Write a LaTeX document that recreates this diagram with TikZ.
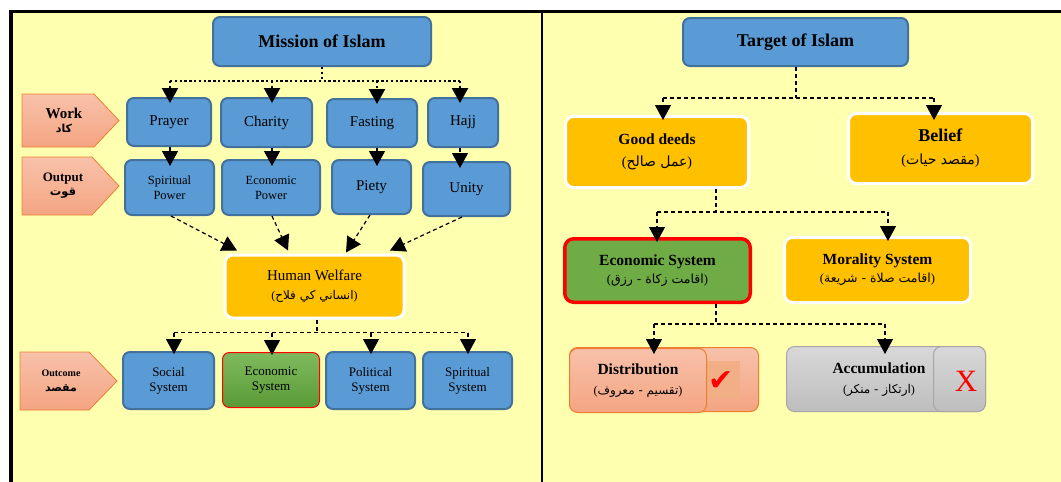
\documentclass[tikz,border=0pt]{standalone}
\usepackage{fontspec}
\setmainfont{Liberation Serif}
\newfontfamily\arabicfont[Script=Arabic]{DejaVu Sans}
\newfontfamily\symbolfont{DejaVu Sans}
\TeXXeTstate=1
\usetikzlibrary{arrows.meta}

% Arabic phrase set right to left, with its brackets
\newcommand\artxt[1]{{\arabicfont\beginR #1\endR}}
\newcommand\arpar[1]{({\arabicfont\beginR #1\endR})}
\newcommand\fs[1]{\fontsize{#1}{#1}\selectfont}

\definecolor{paper}{HTML}{FFFFB0}
\definecolor{bluefill}{HTML}{5B9BD5}
\definecolor{blueedge}{HTML}{41719C}
\definecolor{gold}{HTML}{FFC000}
\definecolor{leaf}{HTML}{6FAC46}
\definecolor{leaftop}{HTML}{7FBB5E}
\definecolor{leafbot}{HTML}{5A9A36}
\definecolor{tagtop}{HTML}{F8C1AA}
\definecolor{tagbot}{HTML}{F4A582}
\definecolor{tagedge}{HTML}{ED7D31}
\definecolor{tickbg}{HTML}{F2AE85}
\definecolor{greytop}{HTML}{D8D8D8}
\definecolor{greybot}{HTML}{BEBEBE}
\definecolor{greyedge}{HTML}{A6A6A6}

\tikzset{
  bluebox/.style={draw=blueedge, line width=2pt, fill=bluefill, rounded corners=7pt,
    inner sep=0pt, align=center},
  goldbox/.style={draw=white, line width=3pt, fill=gold, rounded corners=8pt,
    inner sep=0pt, align=center},
  tagshape/.style={draw=tagedge, line width=0.8pt, top color=tagtop, bottom color=tagbot},
  taglabel/.style={inner sep=0pt, align=center},
  salmonbox/.style={draw=tagedge, line width=1pt, top color=tagtop, bottom color=tagbot,
    rounded corners=8pt, inner sep=0pt, align=center},
  greybox/.style={draw=greyedge, line width=1pt, top color=greytop, bottom color=greybot,
    rounded corners=8pt, inner sep=0pt, align=center},
  conn/.style={line width=1.2pt, dash pattern=on 4pt off 3pt},
  dotconn/.style={line width=2.4pt, dash pattern=on 2.4pt off 2.4pt},
  tip/.style={-{Triangle[width=16pt,length=15pt]}},
}

\begin{document}
\begin{tikzpicture}[x=1pt,y=-1pt]
\useasboundingbox (0,0) rectangle (1061,482);

% panels and frame
\fill[paper] (9,10) rectangle (1061,482);
\draw[line width=2.5pt] (9,11.25) -- (1061,11.25);
\draw[line width=4pt] (11,10) -- (11,482);
\draw[line width=2.5pt] (542,10) -- (542,482);

% ---------------- left panel ----------------
\node[bluebox, minimum width=218, minimum height=49, font=\fs{18}\bfseries] (mission) at (322,41.5) {Mission of Islam};

% row tags
\shade[tagshape] (22,94) -- (94,94) -- (119,120.5) -- (94,147) -- (22,147) -- cycle;
\node[taglabel] (work) at (64,120.5)
  {{\fs{15}\bfseries Work}\\[2pt]{\fs{11}\bfseries\artxt{کاد}}};
\shade[tagshape] (22,157) -- (92,157) -- (119,186) -- (92,215) -- (22,215) -- cycle;
\node[taglabel] (output) at (63,186)
  {{\fs{13}\bfseries Output}\\[2pt]{\fs{11.5}\bfseries\artxt{قوت}}};
\shade[tagshape] (20,352) -- (89,352) -- (117,381) -- (89,410) -- (20,410) -- cycle;
\node[taglabel] (outcome) at (61,381)
  {{\fs{10}\bfseries Outcome}\\[3pt]{\fs{11}\bfseries\artxt{مقصد}}};

\node[bluebox, minimum width=84, minimum height=48, font=\fs{15}] (prayer) at (169,122) {Prayer};
\node[bluebox, minimum width=91, minimum height=49, font=\fs{15}] (charity) at (266.5,122.5) {Charity};
\node[bluebox, minimum width=90, minimum height=48, font=\fs{15}] (fasting) at (372,123) {Fasting};
\node[bluebox, minimum width=70, minimum height=49, font=\fs{15}] (hajj) at (463,122.5) {Hajj};

\node[bluebox, minimum width=89, minimum height=55, font=\fontsize{12.5}{15}\selectfont] (spow) at (169.5,187.5) {Spiritual\\Power};
\node[bluebox, minimum width=98, minimum height=55, font=\fontsize{12.5}{15}\selectfont] (epow) at (271,187.5) {Economic\\Power};
\node[bluebox, minimum width=79, minimum height=54, font=\fs{15}] (piety) at (371.5,187) {Piety};
\node[bluebox, minimum width=87, minimum height=54, font=\fs{15}] (unity) at (466.5,189) {Unity};

\node[goldbox, minimum width=179, minimum height=63, font=\fontsize{15}{19}\selectfont] (welfare) at (314.5,286.5)
  {Human Welfare\\{\fs{12}\arpar{انساني کي فلاح}}};

\node[bluebox, minimum width=91, minimum height=57, font=\fontsize{13}{15}\selectfont] (social) at (168.5,380.5) {Social\\System};
\node[draw=red, line width=1pt, top color=leaftop, bottom color=leafbot, rounded corners=7pt, inner sep=0pt, align=center,
  minimum width=97, minimum height=55, font=\fontsize{13}{15}\selectfont] (econL) at (271,380) {Economic\\System};
\node[bluebox, minimum width=89, minimum height=57, font=\fontsize{13}{15}\selectfont] (political) at (370.5,380.5) {Political\\System};
\node[bluebox, minimum width=89, minimum height=57, font=\fontsize{13}{15}\selectfont] (spiritual) at (467.5,380.5) {Spiritual\\System};

% mission to the four acts of worship
\coordinate (pA) at ([xshift=1]prayer.north);
\coordinate (pB) at ([xshift=5.5]charity.north);
\coordinate (pC) at ([xshift=5]fasting.north);
\coordinate (pD) at ([xshift=-3]hajj.north);
\draw[dotconn] (mission.south) -- ++(0,14) coordinate (mj);
\draw[dotconn] (mj -| pA) -- (mj -| pD);
\foreach \p in {pA,pB,pC,pD}
  \draw[dotconn, tip, shorten >=-6pt] (mj -| \p) -- (\p);

% acts of worship to their outputs
\draw[conn, tip, shorten >=-7pt] (prayer.south -| pA) -- (spow.north -| pA);
\draw[conn, tip, shorten >=-7pt] (charity.south -| pB) -- (epow.north -| pB);
\draw[conn, tip, shorten >=-7pt] (fasting.south -| pC) -- (piety.north -| pC);
\draw[conn, tip, shorten >=-7pt] (hajj.south -| pD) -- (unity.north -| pD);

% outputs to human welfare
\draw[conn, tip] ([xshift=1.5]spow.south) -- ([xshift=-77.5,yshift=3]welfare.north);
\draw[conn, tip] ([xshift=1]epow.south) -- ([xshift=-26.5,yshift=3]welfare.north);
\draw[conn, tip] ([xshift=-1.5]piety.south) -- ([xshift=31.5,yshift=1]welfare.north);
\draw[conn, tip] ([xshift=-4.5]unity.south) -- ([xshift=75.5,yshift=3]welfare.north);

% human welfare to the four systems
\coordinate (sA) at ([xshift=5.5]social.north);
\coordinate (sB) at ([xshift=1]econL.north);
\coordinate (sC) at ([xshift=0.5]political.north);
\coordinate (sD) at ([xshift=0.5]spiritual.north);
\draw[conn] ([xshift=2.5]welfare.south) -- ++(0,13) coordinate (wj);
\draw[conn] (wj -| sA) -- (wj -| sD);
\foreach \p in {sA,sB,sC,sD}
  \draw[conn, tip, shorten >=-3pt] (wj -| \p) -- (\p);

% ---------------- right panel ----------------
\node[bluebox, minimum width=225, minimum height=48, font=\fs{18}\bfseries] (target) at (795.5,42) {Target of Islam};

\node[goldbox, minimum width=183, minimum height=71, font=\fontsize{15.5}{22}\selectfont] (good) at (657,152)
  {\textbf{Good deeds}\\{\fs{14}\arpar{عمل صالح}}};
\node[goldbox, minimum width=184, minimum height=70, font=\fontsize{18}{23}\selectfont] (belief) at (940.5,148.5)
  {\textbf{Belief}\\{\fs{14}\arpar{مقصد حيات}}};

\node[draw=red, line width=3.5pt, fill=leaf, rounded corners=9pt, inner sep=0pt, align=center,
  minimum width=185.5, minimum height=63.5, font=\fontsize{15.5}{18}\selectfont] (econR) at (657.5,270.5)
  {\textbf{Economic System}\\{\fs{12.5}\arpar{اقامت زكاة - رزق}}};
\node[goldbox, minimum width=186, minimum height=65, font=\fontsize{15.5}{18}\selectfont] (moral) at (877.5,270)
  {\textbf{Morality System}\\{\fs{12.5}\arpar{اقامت صلاة - شريعة}}};

% distribution card with its tick
\node[salmonbox, minimum width=189, minimum height=64] (distb) at (664,379.5) {};
\node[fill=tickbg, minimum width=33, minimum height=37, inner sep=0pt] (tickbox) at (723.5,379.5) {};
\node[text=red, font=\symbolfont\fontsize{30}{30}\selectfont, inner sep=0pt] (tick) at (721,381) {✔};
\node[salmonbox, minimum width=137, minimum height=64, font=\fontsize{15.5}{20}\selectfont] (dist) at (638,380.5)
  {\textbf{Distribution}\\{\fs{12}\arpar{تقسيم - معروف}}};

% accumulation card with its cross
\node[greybox, minimum width=199, minimum height=65] (acc) at (886,379) {};
\node[greybox, minimum width=52, minimum height=65] (accx) at (959.5,379) {};
\node[align=center, inner sep=0pt, font=\fontsize{15.5}{20}\selectfont] (acctext) at (879,380)
  {\textbf{Accumulation}\\{\fs{12}\arpar{ارتكاز - منكر}}};
\node[text=red, font=\fs{31}, inner sep=0pt] (cross) at (966,381) {X};

% target to good deeds and belief
\coordinate (gA) at ([xshift=6]good.north);
\coordinate (gB) at ([xshift=-6.5]belief.north);
\draw[conn] ([xshift=0.5]target.south) -- ++(0,31) coordinate (tj);
\draw[conn] (tj -| gA) -- (tj -| gB);
\draw[conn, tip, shorten >=-5pt] (tj -| gA) -- (gA);
\draw[conn, tip, shorten >=-8pt] (tj -| gB) -- (gB);

% good deeds to the two systems
\coordinate (eA) at ([xshift=-0.5]econR.north);
\coordinate (eB) at ([xshift=10.5]moral.north);
\draw[conn] ([xshift=59]good.south) -- ++(0,23) coordinate (gj);
\draw[conn] (gj -| eA) -- (gj -| eB);
\draw[conn, tip, shorten >=-5pt] (gj -| eA) -- (eA);
\draw[conn, tip, shorten >=-5pt] (gj -| eB) -- (eB);

% economic system to distribution and accumulation
\coordinate (dA) at ([xshift=16]dist.north);
\coordinate (dB) at ([xshift=-1]acc.north);
\draw[conn] ([xshift=58.5]econR.south) -- ++(0,20) coordinate (ej);
\draw[conn] (ej -| dA) -- (ej -| dB);
\draw[conn, tip, shorten >=-6pt] (ej -| dA) -- (dA);
\draw[conn, tip, shorten >=-8pt] (ej -| dB) -- (dB);
\end{tikzpicture}
\end{document}
